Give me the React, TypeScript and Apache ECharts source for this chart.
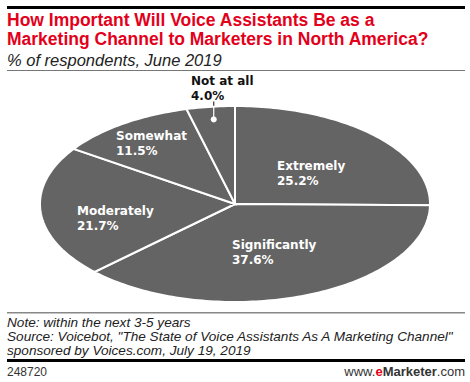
import React, { useEffect, useRef } from "react";
import * as echarts from "echarts";

// ---- data ----
const categories = ["Extremely", "Significantly", "Moderately", "Somewhat", "Not at all"];
const shares = [25.2, 37.6, 21.7, 11.5, 4.0];

// ---- text ----
const titleLines = [
  "How Important Will Voice Assistants Be as a",
  "Marketing Channel to Marketers in North America?",
];
const subtitle = "% of respondents, June 2019";
const noteLines = [
  "Note: within the next 3-5 years",
  'Source: Voicebot, "The State of Voice Assistants As A Marketing Channel"',
  "sponsored by Voices.com, July 19, 2019",
];
const chartId = "248720";

// ---- layout (not data) ----
const CX = 235;
const CY = 204;
const RX = 195;
const RY = 98;
const labelAnchors: [number, number][] = [
  [277, 158.5],
  [232, 237],
  [77, 203.5],
  [116, 128.5],
  [191, 73.5],
];
const SLICE = "#646464";
const RED = "#e3001b";

const LABEL_FONT = "DejaVu Sans";
const SANS = "Liberation Sans";

export default function App() {
  const ref = useRef<HTMLDivElement>(null);
  useEffect(() => {
    if (!ref.current) return;
    const chart = echarts.init(ref.current, null, { renderer: "svg" });
    const total = shares.reduce((a, b) => a + b, 0);
    const cum: number[] = [];
    let acc = 0;
    shares.forEach((v) => {
      cum.push(acc);
      acc += v;
    });

    const renderItem = (params: any, api: any) => {
      const i = params.dataIndex;
      const v = api.value(0);
      const a0 = (cum[i] / total) * Math.PI * 2;
      const a1 = a0 + (v / total) * Math.PI * 2;
      const pts: number[][] = [[CX, CY]];
      const steps = Math.max(8, Math.ceil((a1 - a0) / 0.02));
      for (let k = 0; k <= steps; k++) {
        const t = a0 + ((a1 - a0) * k) / steps;
        pts.push([CX + RX * Math.sin(t), CY - RY * Math.cos(t)]);
      }
      const children: any[] = [
        {
          type: "polygon",
          shape: { points: pts },
          style: { fill: SLICE, stroke: "#ffffff", lineWidth: 2, lineJoin: "miter" },
        },
      ];
      const outside = i === shares.length - 1;
      const [lx, ly] = labelAnchors[i];
      children.push({
        type: "text",
        x: lx,
        y: ly,
        style: {
          text: categories[i] + "\n" + v.toFixed(1) + "%",
          fill: outside ? "#111111" : "#ffffff",
          fontFamily: LABEL_FONT,
          fontWeight: "bold",
          fontSize: 12,
          lineHeight: 15,
          align: "left",
          verticalAlign: "top",
        },
        z2: 10,
      });
      if (outside) {
        const am = (a0 + a1) / 2;
        const dx = CX + RX * 0.87 * Math.sin(am);
        const dy = CY - RY * 0.87 * Math.cos(am);
        children.push({
          type: "line",
          shape: { x1: dx, y1: dy, x2: dx, y2: ly + 28 },
          style: { stroke: "#ffffff", lineWidth: 1.2 },
          z2: 10,
        });
        children.push({
          type: "circle",
          shape: { cx: dx, cy: dy, r: 3 },
          style: { fill: "#ffffff" },
          z2: 10,
        });
        children.push({
          type: "line",
          shape: { x1: dx, y1: CY - RY * Math.cos(am) - 1, x2: dx, y2: ly + 28 },
          style: { stroke: "#333333", lineWidth: 1.2 },
          z2: 10,
        });
      }
      return { type: "group", children };
    };

    chart.setOption({
      animation: false,
      backgroundColor: "#ffffff",
      graphic: [
        { type: "rect", shape: { x: 7, y: 6, width: 458, height: 3 }, style: { fill: "#000000" } },
        {
          type: "text",
          x: 7,
          y: 10,
          style: {
            text: titleLines.join("\n"),
            fill: RED,
            fontFamily: SANS,
            fontWeight: "bold",
            fontSize: 17.5,
            lineHeight: 19,
            align: "left",
            verticalAlign: "top",
          },
        },
        {
          type: "text",
          x: 7,
          y: 50,
          style: {
            text: subtitle,
            fill: "#222222",
            fontFamily: SANS,
            fontStyle: "italic",
            fontSize: 16.5,
            lineHeight: 19,
            align: "left",
            verticalAlign: "top",
          },
        },
        { type: "rect", shape: { x: 7, y: 70, width: 458, height: 1 }, style: { fill: "#777777" } },
        { type: "rect", shape: { x: 7, y: 312, width: 458, height: 1.5 }, style: { fill: "#888888" } },
        {
          type: "text",
          x: 7,
          y: 315,
          style: {
            text: noteLines.join("\n"),
            fill: "#222222",
            fontFamily: SANS,
            fontStyle: "italic",
            fontSize: 13.6,
            lineHeight: 14,
            align: "left",
            verticalAlign: "top",
          },
        },
        { type: "rect", shape: { x: 7, y: 359, width: 458, height: 3 }, style: { fill: "#000000" } },
        {
          type: "text",
          x: 7,
          y: 364.5,
          style: {
            text: chartId,
            fill: "#333333",
            fontFamily: SANS,
            fontSize: 12,
            lineHeight: 14,
            align: "left",
            verticalAlign: "top",
          },
        },
        {
          type: "text",
          x: 465,
          y: 364,
          style: {
            text: "{n|www.}{e|e}{m|Marketer}{n|.com}",
            align: "right",
            verticalAlign: "top",
            rich: {
              n: { fontFamily: SANS, fontSize: 13, fill: "#333333", lineHeight: 15 },
              e: { fontFamily: SANS, fontSize: 13, fontWeight: "bold", fill: RED, lineHeight: 15 },
              m: { fontFamily: SANS, fontSize: 13, fontWeight: "bold", fill: "#333333", lineHeight: 15 },
            },
          },
        },
      ],
      series: [
        {
          type: "custom",
          coordinateSystem: "none",
          renderItem,
          data: shares.map((v, i) => ({ name: categories[i], value: [v] })),
        },
      ],
    });
    return () => chart.dispose();
  }, []);
  return (
    <div
      ref={ref}
      style={{ position: "fixed", left: 0, top: 0, width: 470, height: 382 }}
    />
  );
}
